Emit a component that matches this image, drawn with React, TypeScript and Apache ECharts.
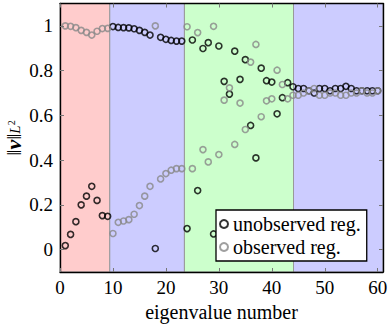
import { useEffect, useRef } from "react";
import * as echarts from "echarts";

const eigenNumbers: number[] = Array.from({ length: 60 }, (_, i) => i + 1);

const unobserved: number[] = [
  0.018, 0.068, 0.125, 0.2, 0.239, 0.283, 0.22, 0.152, 0.149, 0.997,
  0.993, 0.992, 0.991, 0.987, 0.98, 0.971, 0.959, 0.005, 0.949, 0.94,
  0.935, 0.932, 0.932, 0.094, 0.937, 0.264, 0.899, 0.925, 0.07, 0.91,
  0.752, 0.695, 0.887, 0.761, 0.849, 0.555, 0.41, 0.811, 0.755, 0.749,
  0.607, 0.679, 0.746, 0.728, 0.72, 0.72, 0.71, 0.7, 0.72, 0.72,
  0.71, 0.72, 0.72, 0.73, 0.72, 0.71, 0.71, 0.71, 0.71, 0.71,
];

const observed: number[] = [
  1.0, 0.998, 0.992, 0.98, 0.971, 0.959, 0.976, 0.988, 0.989, 0.072,
  0.122, 0.128, 0.134, 0.158, 0.197, 0.239, 0.283, 1.0, 0.316, 0.34,
  0.355, 0.362, 0.362, 0.996, 0.362, 0.97, 0.447, 0.392, 0.998, 0.425,
  0.668, 0.723, 0.47, 0.655, 0.537, 0.838, 0.917, 0.594, 0.665, 0.674,
  0.802, 0.738, 0.674, 0.69, 0.69, 0.7, 0.71, 0.72, 0.69, 0.69,
  0.7, 0.7, 0.69, 0.69, 0.7, 0.7, 0.71, 0.7, 0.7, 0.71,
];

const regionEdges: number[] = [0, 9.4, 23.5, 44.1, 61];
const regionColors: string[] = ["#ffcccc", "#ccccff", "#ccffcc", "#ccccff"];

const xTicks: number[] = [0, 10, 20, 30, 40, 50, 60];
const yTicks: number[] = [0, 0.2, 0.4, 0.6, 0.8, 1];

const seriesNames = ["unobserved reg.", "observed reg."];
const xTitle = "eigenvalue number";
const yTitle = "‖{v|v}‖{s|L}{t|2}";

const FONT = "Liberation Serif";
const FS = 19;

export default function App() {
  const ref = useRef<HTMLDivElement>(null);
  useEffect(() => {
    if (!ref.current) return;
    const chart = echarts.init(ref.current, null, { renderer: "svg" });
    const frame = { show: true, onZero: false, lineStyle: { color: "#000", width: 1.4 } };
    const tick = (vals: number[]) => ({
      show: true,
      inside: true,
      length: 4,
      customValues: vals,
      lineStyle: { color: "#777", width: 1 },
    });
    const areas = regionColors.map((c, i) => [
      { xAxis: regionEdges[i], itemStyle: { color: c, borderColor: "#999", borderWidth: 1 } },
      { xAxis: regionEdges[i + 1] },
    ]);
    chart.setOption({
      animation: false,
      grid: { left: 60, right: 7, top: 3.5, bottom: 60, containLabel: false, outerBoundsMode: "none" },
      graphic: [
        {
          type: "text",
          x: 13,
          y: 138,
          rotation: Math.PI / 2,
          style: {
            text: yTitle,
            fontFamily: FONT,
            fontSize: 22,
            fill: "#000",
            align: "center",
            verticalAlign: "middle",
            lineHeight: 18,
            rich: {
              v: { fontFamily: FONT, fontSize: 22, fontWeight: "bold", fontStyle: "italic", lineHeight: 18 },
              s: { fontFamily: FONT, fontSize: 15, fontStyle: "italic", verticalAlign: "bottom", lineHeight: 12 },
              t: { fontFamily: FONT, fontSize: 10, verticalAlign: "bottom", lineHeight: 10, padding: [0, 0, 6, 0] },
            },
          },
        },
      ],
      legend: {
        left: 216,
        top: 210,
        orient: "vertical",
        backgroundColor: "#fff",
        borderColor: "#000",
        borderWidth: 1.3,
        borderRadius: 0,
        padding: [4, 6, 4, 3],
        itemGap: 3,
        itemWidth: 8,
        itemHeight: 8,
        icon: "circle",
        textStyle: { fontFamily: FONT, fontSize: 20, color: "#000", lineHeight: 20 },
        data: seriesNames,
      },
      xAxis: [
        {
          type: "value",
          min: 0,
          max: 61,
          z: 10,
          axisLine: frame,
          axisTick: tick(xTicks),
          splitLine: { show: false },
          axisLabel: {
            customValues: xTicks,
            fontFamily: FONT,
            fontSize: FS,
            color: "#000",
            margin: 6,
          },
          name: xTitle,
          nameLocation: "middle",
          nameGap: 28,
          nameTextStyle: { fontFamily: FONT, fontSize: 20, color: "#000" },
        },
        {
          type: "value",
          position: "top",
          min: 0,
          max: 61,
          z: 10,
          axisLine: frame,
          axisTick: tick(xTicks),
          splitLine: { show: false },
          axisLabel: { show: false },
        },
      ],
      yAxis: [
        {
          type: "value",
          min: -0.1,
          max: 1.1,
          z: 10,
          axisLine: frame,
          axisTick: tick(yTicks),
          splitLine: { show: false },
          axisLabel: {
            customValues: yTicks,
            fontFamily: FONT,
            fontSize: FS,
            color: "#000",
            margin: 7,
          },
        },
        {
          type: "value",
          position: "right",
          min: -0.1,
          max: 1.1,
          z: 10,
          axisLine: frame,
          axisTick: tick(yTicks),
          splitLine: { show: false },
          axisLabel: { show: false },
        },
      ],
      series: [
        {
          type: "scatter",
          name: "regions",
          data: [],
          z: 1,
          silent: true,
          markArea: { silent: true, data: areas },
        },
        {
          type: "scatter",
          name: seriesNames[0],
          z: 3,
          symbol: "circle",
          symbolSize: 6,
          itemStyle: { color: "rgba(0,0,0,0)", borderColor: "#000", borderWidth: 1.6 },
          data: eigenNumbers.map((n, i) => [n, unobserved[i]]),
        },
        {
          type: "scatter",
          name: seriesNames[1],
          z: 4,
          symbol: "circle",
          symbolSize: 6,
          itemStyle: { color: "rgba(0,0,0,0)", borderColor: "#888", borderWidth: 1.6 },
          data: eigenNumbers.map((n, i) => [n, observed[i]]),
        },
      ],
    });
    return () => chart.dispose();
  }, []);
  return <div ref={ref} style={{ width: 390, height: 332, position: "absolute", left: 0, top: 0 }} />;
}
